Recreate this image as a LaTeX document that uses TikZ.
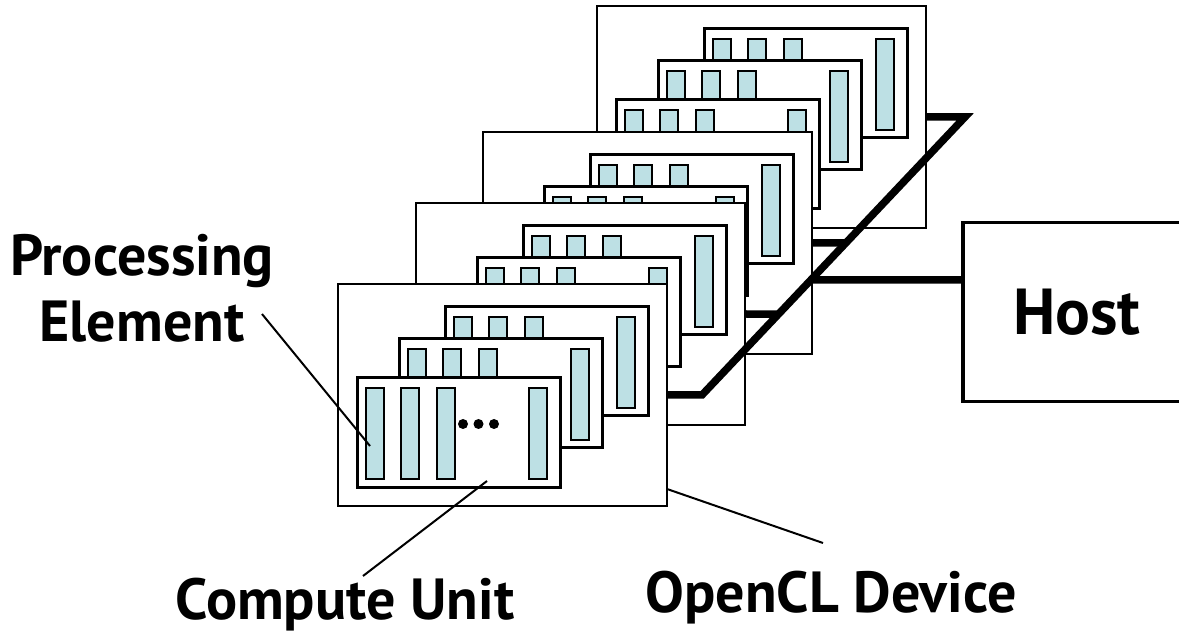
\documentclass[tikz,border=0pt]{standalone}
\usepackage{fontspec}
\setmainfont{PT Sans}
\usetikzlibrary{calc}
\definecolor{pecyan}{RGB}{189,224,228}
\tikzset{
  device/.style={draw, fill=white, line width=2pt, minimum width=329pt, minimum height=222pt, inner sep=0pt},
  cunit/.style={draw, fill=white, line width=3pt, minimum width=203pt, minimum height=109pt, inner sep=0pt},
  pelem/.style={draw, fill=pecyan, line width=2.5pt, minimum width=18pt, minimum height=91pt, inner sep=0pt},
  hostbox/.style={draw, line width=3.5pt, minimum width=228pt, minimum height=179pt, inner sep=0pt, font=\fontsize{65}{70}\selectfont\bfseries},
  bus/.style={line width=7.5pt},
  lead/.style={line width=2pt},
  lbl/.style={font=\fontsize{58}{66}\selectfont\bfseries, inner sep=0pt}
}
\begin{document}
\begin{tikzpicture}[x=1pt,y=-1pt]
\useasboundingbox (0,0) rectangle (1179,636);
% devices, back to front
\foreach \dx/\dy/\d in {597/6/4, 483/132/3, 416/203/2, 338/284/1} {
  \node[device] (dev\d) at (\dx+164.5,\dy+111) {};
  \foreach \cx/\cy/\c in {208.5/77.5/3, 162.5/109.5/2, 120.5/148.5/1} {
    \node[cunit] (cu\d\c) at (\dx+\cx,\dy+\cy) {};
    \foreach \px/\p in {-83.5/1, -48.5/2, -12.5/3, 79.5/4}
      \node[pelem] (pe\d\c\p) at ($(cu\d\c)+(\px,1)$) {};
    \foreach \ox in {4.5,20,35.5}
      \fill ($(cu\d\c)+(\ox,-8.5)$) circle (5);
  }
}

% bus to the host
\coordinate (busbot) at (702,395);
\coordinate (bustop) at (965,117);
\draw[bus] (dev1.east) -- (busbot) -- (bustop) -- (dev4.east);
\draw[bus] (dev2.east) -- ($(busbot)!0.291!(bustop)$);
\draw[bus] (dev3.east) -- ($(busbot)!0.547!(bustop)$);

\node[hostbox] (host) at (1077,312) {Host};
\draw[bus] ($(busbot)!0.414!(bustop)$) -- (host.west |- 0,280);

% labels
\node[lbl, align=center] (pelabel) at (142,288.5) {Processing\\Element};
\node[lbl, anchor=base] (culabel) at (345,619) {Compute Unit};
\node[lbl, anchor=base] (devlabel) at (831,612) {OpenCL Device};

\coordinate (peend) at (262,314);
\coordinate (cuend) at (363,576);
\coordinate (devend) at (823,543);
\draw[lead] (peend) -- ($(pe111)+(-5,12.5)$);
\draw[lead] ($(cu11)+(28.5,48.5)$) -- (cuend);
\draw[lead] ($(dev1.south east)+(-1,-18)$) -- (devend);
\end{tikzpicture}
\end{document}
